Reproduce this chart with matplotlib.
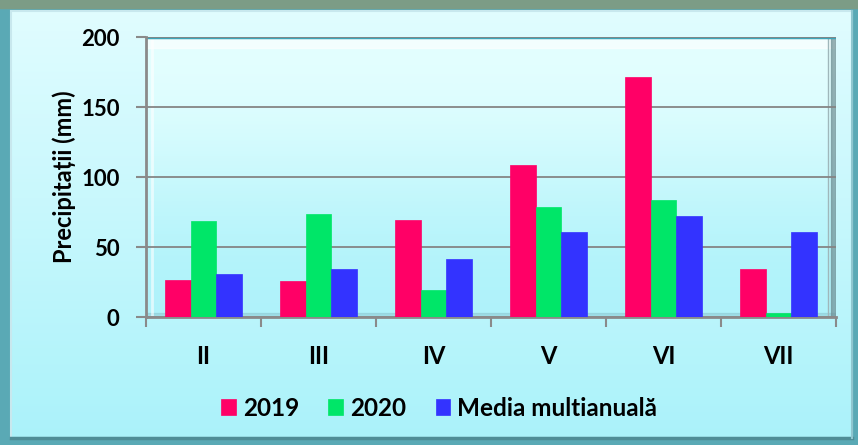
import numpy as np
import matplotlib.pyplot as plt
from matplotlib.patches import Rectangle

months = ["II", "III", "IV", "V", "VI", "VII"]
v2019 = [26.7, 25.7, 69.6, 108.8, 171.4, 34.0]
v2020 = [68.4, 73.6, 19.6, 78.6, 83.8, 2.6]
media = [30.5, 34.0, 41.4, 61.0, 72.1, 60.5]
series_names = ["2019", "2020", "Media multianuală"]
colors = ["#ff0066", "#00e668", "#3333ff"]

plt.rcParams['font.family'] = ['Lato', 'DejaVu Sans']

W, H = 858, 445
fig = plt.figure(figsize=(W / 100, H / 100), dpi=100)
fig.patch.set_facecolor("#5aa9b5")

# outer panel with vertical gradient
bg = fig.add_axes([0, 0, 1, 1])
bg.set_xlim(0, W)
bg.set_ylim(H, 0)
bg.axis("off")
bg.add_patch(Rectangle((0, 0), W, 8, color="#7c9c86", zorder=0))
grad = np.linspace(0, 1, 256).reshape(-1, 1)
top_c = np.array([0.88, 0.99, 1.0])
bot_c = np.array([0.67, 0.95, 0.98])
img = top_c + (bot_c - top_c) * grad[..., None]
img = img.reshape(256, 1, 3)
bg.imshow(img, extent=(11, 852, 438, 11), aspect="auto", zorder=1)
bg.add_patch(Rectangle((11, 11), 841, 427, fill=False, ec="#c8e8ee", lw=1.5, zorder=2))
bg.plot([11, 852], [438, 438], color="#4f8d96", lw=2.5, zorder=2)
bg.plot([852, 852], [11, 438], color="#8fc6cf", lw=1.5, zorder=2)

# plot area
x0, x1, y0, y1 = 146, 836, 317, 37
ax = fig.add_axes([x0 / W, 1 - y0 / H, (x1 - x0) / W, (y0 - y1) / H])
ax.set_xlim(-0.5, len(months) - 0.5)
ax.set_ylim(0, 200)

# wall with gradient
ax.imshow(np.array([[0.90, 1.0, 1.0], [0.68, 0.95, 0.98]]).reshape(2, 1, 3),
          extent=(-0.5, 5.5, 0, 200), aspect="auto", zorder=0, interpolation="bicubic")
ax.axhspan(192, 200, color="white", alpha=0.6, zorder=0.5)
ax.axhspan(0, 3, color="#7fb7c2", alpha=0.35, zorder=0.5)
ax.axvline(-0.45, color="white", lw=2, alpha=0.6, zorder=0.5)
ax.axvline(5.43, color="#9fb7bb", lw=1, zorder=0.5)
ax.axvspan(5.46, 5.5, color="#6f8f94", alpha=0.7, zorder=0.5)
ax.axhline(200, color="#3ea4b8", lw=2.5, zorder=0.6)

x = np.arange(len(months))
bw = 0.223
for i, (vals, name, c) in enumerate(zip([v2019, v2020, media], series_names, colors)):
    ax.bar(x + (i - 1) * bw, vals, bw, color=c, label=name, zorder=3,
           edgecolor=c, linewidth=0.5)

ax.set_yticks([0, 50, 100, 150, 200])
ax.yaxis.grid(True, color="#858585", lw=1.3, zorder=1)
for g in ax.get_ygridlines():
    g.set_zorder(1)

ax.set_xticks(x)
ax.set_xticklabels(months)
ax.set_xticks(np.arange(-0.5, 6, 1), minor=True)
ax.tick_params(axis="x", which="major", length=0, pad=20, labelsize=17)
ax.tick_params(axis="x", which="minor", length=7, width=1.5, color="#8a8a8a", direction="out")
ax.tick_params(axis="y", length=7, width=1.5, color="#8a8a8a", direction="out", pad=12, labelsize=16)
for lab in ax.get_xticklabels() + ax.get_yticklabels():
    lab.set_fontweight("bold")

for s in ["top", "right"]:
    ax.spines[s].set_visible(False)
for s in ["left", "bottom"]:
    ax.spines[s].set_color("#8a8a8a")
    ax.spines[s].set_linewidth(2)

ax.set_ylabel("Precipitații (mm)", fontsize=17, fontweight="bold", labelpad=4)

fig.legend(loc="center", bbox_to_anchor=(0.512, 0.083), ncol=3, frameon=False,
           prop={"size": 17.5, "weight": "bold"}, handlelength=0.6, handleheight=0.6,
           handletextpad=0.3, columnspacing=1.2)

fig.savefig("out.png", dpi=100)
